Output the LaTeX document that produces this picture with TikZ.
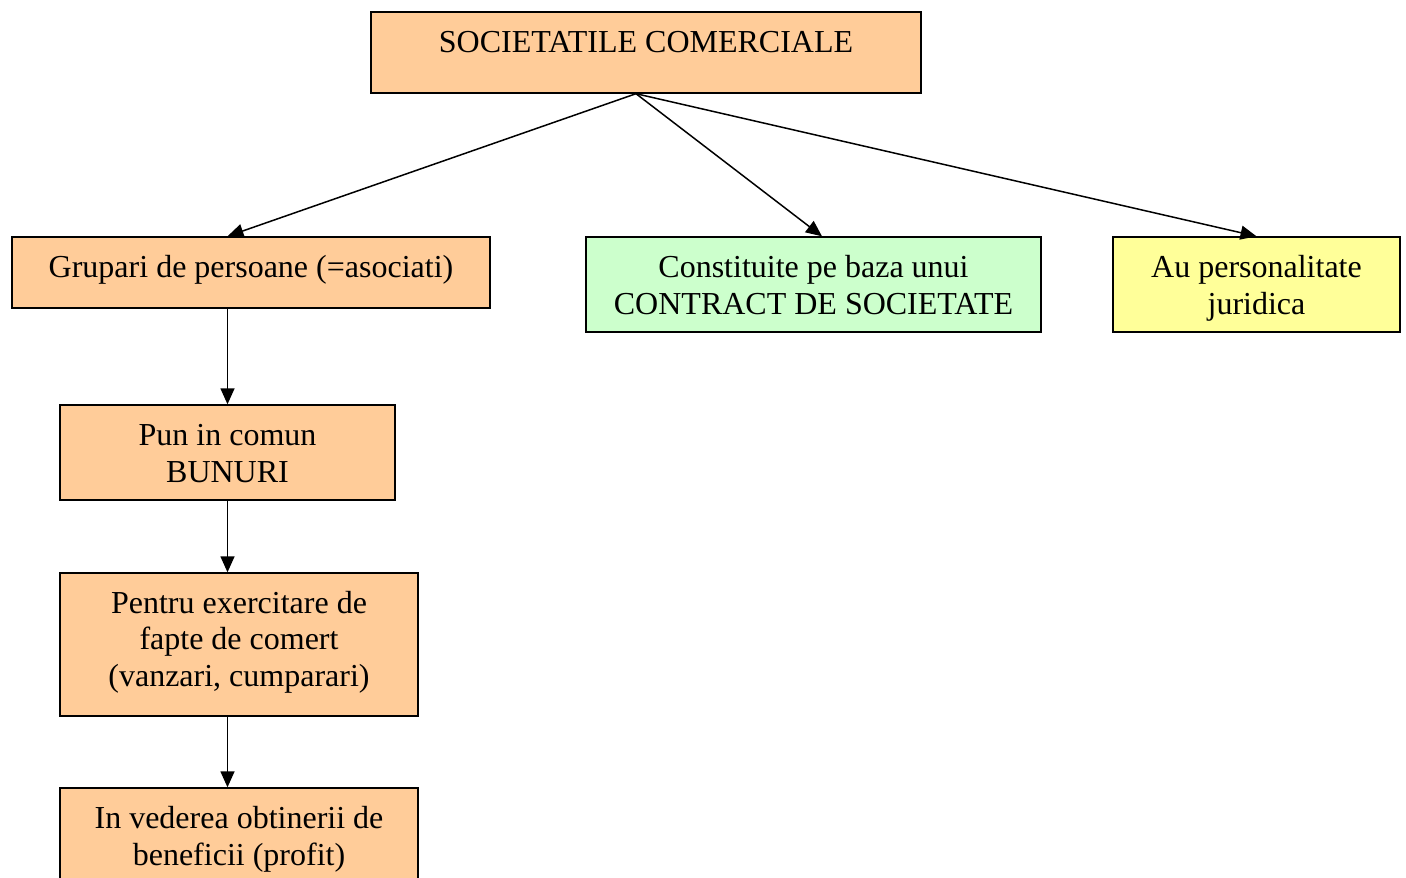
\documentclass[tikz,border=0pt]{standalone}
\usepackage{fontspec}
\setmainfont{Liberation Serif}
\usetikzlibrary{arrows.meta}
\definecolor{orangefill}{HTML}{FFCC99}
\definecolor{greenfill}{HTML}{CCFFCC}
\definecolor{yellowfill}{HTML}{FFFF99}
\begin{document}
\begin{tikzpicture}[x=1pt,y=-1pt,
  boxst/.style={draw=black,line width=1.4pt,rectangle,inner sep=0pt},
  txt/.style={anchor=base,inner sep=0pt,font=\fontsize{32}{37}\selectfont},
  arr/.style={line width=1.5pt,-{Triangle[length=16pt,width=14pt]}}]
\useasboundingbox (0,0) rectangle (1406,878);
\clip (0,0) rectangle (1406,878);
% boxes
\node[boxst,fill=orangefill,minimum width=550pt,minimum height=81pt] (top) at (646,52.5) {};
\node[boxst,fill=orangefill,minimum width=478pt,minimum height=71pt] (grup) at (251,272.5) {};
\node[boxst,fill=greenfill,minimum width=455pt,minimum height=95pt] (cons) at (813.5,284.5) {};
\node[boxst,fill=yellowfill,minimum width=287pt,minimum height=95pt] (aup) at (1256.5,284.5) {};
\node[boxst,fill=orangefill,minimum width=335pt,minimum height=95pt] (pun) at (227.5,452.5) {};
\node[boxst,fill=orangefill,minimum width=358pt,minimum height=143pt] (pent) at (239,644.5) {};
\node[boxst,fill=orangefill,minimum width=358pt,minimum height=143pt] (inv) at (239,859.5) {};
% texts
\node[txt] (t1) at (646,52) {SOCIETATILE COMERCIALE};
\node[txt] (t2) at (251,277) {Grupari de persoane (=asociati)};
\node[txt] (t3a) at (813.5,277) {Constituite pe baza unui};
\node[txt] (t3b) at (813.5,314) {CONTRACT DE SOCIETATE};
\node[txt] (t4a) at (1256.5,277) {Au personalitate};
\node[txt] (t4b) at (1256.5,314) {juridica};
\node[txt] (t5a) at (227.5,445) {Pun in comun};
\node[txt] (t5b) at (227.5,482) {BUNURI};
\node[txt] (t6a) at (239,613) {Pentru exercitare de};
\node[txt] (t6b) at (239,649) {fapte de comert};
\node[txt] (t6c) at (239,686) {(vanzari, cumparari)};
\node[txt] (t7a) at (239,828) {In vederea obtinerii de};
\node[txt] (t7b) at (239,865) {beneficii (profit)};
% connectors
\coordinate (src) at ([xshift=-10pt]top.south);
\draw[arr] (src) -- (pun.north |- grup.north);
\draw[arr] (src) -- ([xshift=8.5pt]cons.north);
\draw[arr] (src) -- (aup.north);
\draw[arr] (pun.north |- grup.south) -- (pun.north);
\draw[arr] (pun.south) -- (pun.south |- pent.north);
\draw[arr] (pun.south |- pent.south) -- (pun.south |- inv.north);
\end{tikzpicture}
\end{document}
